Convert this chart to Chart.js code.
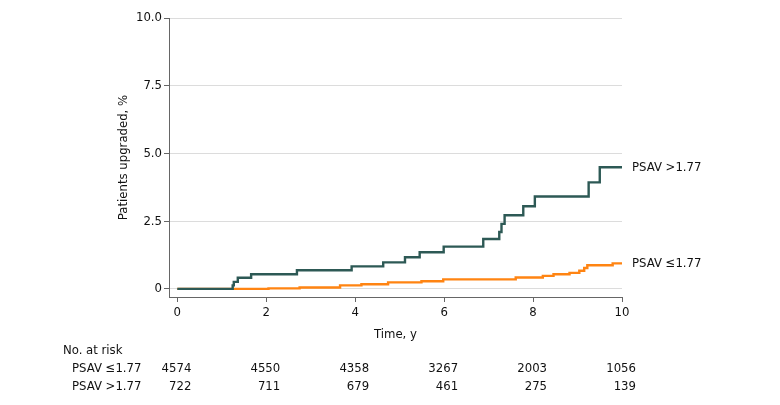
<!DOCTYPE html>
<html>
<head>
<meta charset="utf-8">
<script src="https://cdn.jsdelivr.net/npm/chart.js@4.4.1/dist/chart.umd.min.js"></script>
<style>
  html, body { margin: 0; padding: 0; background: #fff; }
  #wrap { width: 780px; height: 405px; }
</style>
</head>
<body>
<div id="wrap"><canvas id="km"></canvas></div>
<script>
// cumulative % upgraded, step points (time in years, value after the step)
const highTimes = [0, 1.245, 1.27, 1.36, 1.66, 2.69, 3.92, 4.63, 5.12, 5.45, 5.99, 6.88, 7.24, 7.29, 7.36, 7.78, 8.04, 9.25, 9.50, 10];
const highPct   = [0, 0.13, 0.26, 0.41, 0.54, 0.69, 0.83, 0.98, 1.17, 1.35, 1.56, 1.84, 2.10, 2.40, 2.72, 3.05, 3.41, 3.93, 4.49, 4.49];

const lowTimes = [0, 1.25, 2.05, 2.75, 3.66, 4.14, 4.74, 5.49, 5.98, 7.61, 8.22, 8.46, 8.82, 9.04, 9.15, 9.22, 9.79, 10];
const lowPct   = [0, 0, 0.02, 0.05, 0.13, 0.17, 0.24, 0.28, 0.35, 0.42, 0.48, 0.54, 0.59, 0.67, 0.77, 0.87, 0.94, 0.94];

const seriesNames = ["PSAV >1.77", "PSAV \u22641.77"];

// number at risk table
const riskTimes = [0, 2, 4, 6, 8, 10];
const riskLow  = [4574, 4550, 4358, 3267, 2003, 1056];
const riskHigh = [722, 711, 679, 461, 275, 139];

const xTicks = [0, 2, 4, 6, 8, 10];
const yTicks = [0, 2.5, 5, 7.5, 10];
const yTickLabels = ["0", "2.5", "5.0", "7.5", "10.0"];

const FONT = "'DejaVu Sans Condensed', 'DejaVu Sans', sans-serif";
const TEXT = "#111";
const AXIS = "#666";
const DARK = "#2d5955";
const ORANGE = "#ff8412";

const toPts = (xs, ys) => xs.map((x, i) => ({ x: x, y: ys[i] }));

// labels at line ends + risk table
const extras = {
  id: "extras",
  afterDraw(chart) {
    const ctx = chart.ctx;
    const xs = chart.scales.x, ys = chart.scales.y;
    ctx.save();
    ctx.fillStyle = TEXT;
    ctx.font = "13px " + FONT;
    ctx.textBaseline = "middle";
    ctx.textAlign = "left";
    ctx.fillText(seriesNames[0], 632, ys.getPixelForValue(highPct[highPct.length - 1]));
    ctx.fillText(seriesNames[1], 632, ys.getPixelForValue(lowPct[lowPct.length - 1]));

    ctx.fillText("No. at risk", 63, 351);
    ctx.fillText(seriesNames[1], 72, 369);
    ctx.fillText(seriesNames[0], 72, 387);
    ctx.textAlign = "right";
    riskTimes.forEach((t, i) => {
      const px = xs.getPixelForValue(t) + 14;
      ctx.fillText(String(riskLow[i]), px, 369);
      ctx.fillText(String(riskHigh[i]), px, 387);
    });
    ctx.restore();
  }
};

new Chart(document.getElementById("km"), {
  type: "line",
  data: {
    datasets: [
      {
        label: seriesNames[0],
        data: toPts(highTimes, highPct),
        borderColor: DARK,
        borderWidth: 2.4,
        stepped: "before",
        pointRadius: 0,
        fill: false
      },
      {
        label: seriesNames[1],
        data: toPts(lowTimes, lowPct),
        borderColor: ORANGE,
        borderWidth: 2.4,
        stepped: "before",
        pointRadius: 0,
        fill: false
      }
    ]
  },
  options: {
    responsive: true,
    maintainAspectRatio: false,
    animation: false,
    events: [],
    layout: { padding: { left: 0, top: 18, right: 158, bottom: 60 } },
    plugins: { legend: { display: false }, tooltip: { enabled: false } },
    scales: {
      x: {
        type: "linear",
        min: -0.187,
        max: 10,
        afterBuildTicks: s => { s.ticks = xTicks.map(v => ({ value: v })); },
        afterFit: s => { s.height = 48; },
        grid: { drawOnChartArea: false, drawTicks: true, tickLength: 5, tickColor: AXIS },
        border: { color: AXIS, width: 1 },
        ticks: { color: TEXT, font: { family: FONT, size: 13 }, padding: 3, maxRotation: 0 },
        title: { display: true, text: "Time, y", color: TEXT, font: { family: FONT, size: 13 }, padding: { top: 0, bottom: 3 } }
      },
      y: {
        min: -0.3,
        max: 10,
        afterBuildTicks: s => { s.ticks = yTicks.map(v => ({ value: v })); },
        afterFit: s => { s.width = 169; },
        grid: { color: "#dcdcdc", lineWidth: 1, drawTicks: true, tickLength: 5, tickColor: AXIS },
        border: { color: AXIS, width: 1 },
        ticks: {
          color: TEXT,
          font: { family: FONT, size: 13 },
          padding: 2,
          callback: (v) => yTickLabels[yTicks.indexOf(v)]
        },
        title: { display: true, text: "Patients upgraded, %", color: TEXT, font: { family: FONT, size: 13 }, padding: { top: 116, bottom: 0 } }
      }
    }
  },
  plugins: [extras]
});
</script>
</body>
</html>
